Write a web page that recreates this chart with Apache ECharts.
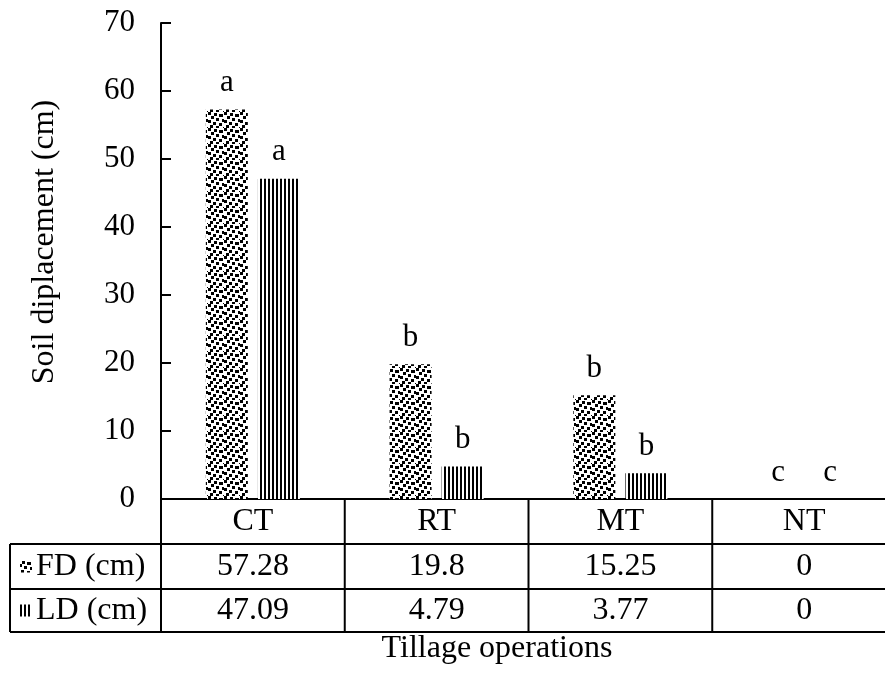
<!DOCTYPE html>
<html>
<head>
<meta charset="utf-8">
<script src="https://cdn.jsdelivr.net/npm/echarts@6/dist/echarts.min.js"></script>
<style>
html,body{margin:0;padding:0;background:#fff;}
#main{width:885px;height:695px;}
</style>
</head>
<body>
<div id="main"></div>
<script>
// ---- data ----
const categories = ['CT', 'RT', 'MT', 'NT'];
const fdValues = [57.28, 19.8, 15.25, 0];
const ldValues = [47.09, 4.79, 3.77, 0];
const fdLetters = ['a', 'b', 'b', 'c'];
const ldLetters = ['a', 'b', 'b', 'c'];
const seriesNames = ['FD (cm)', 'LD (cm)'];
const yMin = 0, yMax = 70, yStep = 10;
const yTitle = 'Soil diplacement (cm)';
const xTitle = 'Tillage operations';

// ---- styles ----
const FONT = "'Liberation Serif', 'Times New Roman', serif";
const FS = 31;
const FS_T = 32;
const GRID = { left: 161, top: 23, right: -11, height: 476 };
const TABLE_LEFT = 10;
const ROW_BOUNDS = [499, 544, 589, 632];

function confettiTile() {
  const c = document.createElement('canvas');
  c.width = 16; c.height = 16;
  const g = c.getContext('2d');
  g.fillStyle = '#fff'; g.fillRect(0, 0, 16, 16);
  g.fillStyle = '#000';
  const sq = [[0,0,3,3],[6,1,3,3],[11,2,4,3],[3,4,3,3],[14,7,2,3],[0,8,3,3],[8,6,3,3],[5,10,3,3],[11,11,3,3],[2,13,3,3],[8,14,3,2],[15,15,1,1]];
  sq.forEach(s => g.fillRect(s[0], s[1], s[2], s[3]));
  return c;
}
function vlineTile() {
  const c = document.createElement('canvas');
  c.width = 4; c.height = 4;
  const g = c.getContext('2d');
  g.fillStyle = '#fff'; g.fillRect(0, 0, 4, 4);
  g.fillStyle = '#000'; g.fillRect(0, 0, 2, 4);
  return c;
}
const fdFill = { image: confettiTile(), repeat: 'repeat' };
const ldFill = { image: vlineTile(), repeat: 'repeat' };

const chart = echarts.init(document.getElementById('main'), null, { renderer: 'canvas' });

const labelStyle = { show: true, position: 'top', distance: 11, color: '#000', fontFamily: FONT, fontSize: FS };

chart.setOption({
  animation: false,
  backgroundColor: '#fff',
  textStyle: { fontFamily: FONT, color: '#000' },
  grid: Object.assign({ outerBoundsMode: 'none', containLabel: false }, GRID),
  xAxis: {
    type: 'category',
    data: categories,
    axisLine: { show: true, lineStyle: { color: '#000', width: 2 } },
    axisTick: { show: false },
    axisLabel: { show: false },
    splitLine: { show: false }
  },
  yAxis: {
    type: 'value',
    min: yMin, max: yMax, interval: yStep,
    axisLine: { show: true, lineStyle: { color: '#000', width: 2 } },
    axisTick: { show: true, inside: true, length: 10, lineStyle: { color: '#000', width: 2 } },
    axisLabel: { color: '#000', fontFamily: FONT, fontSize: FS, margin: 26 },
    splitLine: { show: false }
  },
  series: [
    {
      name: seriesNames[0], type: 'bar', data: fdValues,
      barWidth: 42, barGap: '24%',
      itemStyle: { color: fdFill },
      label: Object.assign({}, labelStyle, { formatter: p => fdLetters[p.dataIndex] })
    },
    {
      name: seriesNames[1], type: 'bar', data: ldValues,
      barWidth: 42, barGap: '24%',
      itemStyle: { color: ldFill },
      label: Object.assign({}, labelStyle, { formatter: p => ldLetters[p.dataIndex] })
    }
  ]
});

// ---- data table below the axis ----
const centers = categories.map(c => chart.convertToPixel({ xAxisIndex: 0 }, c));
const band = centers.length > 1 ? centers[1] - centers[0] : 735;
const bounds = centers.map(c => c - band / 2);
const lineStyle = { stroke: '#000', lineWidth: 2 };
const elems = [];
const right = 885 + 20;
[1, 2, 3].forEach(r => {
  elems.push({ type: 'line', shape: { x1: TABLE_LEFT, y1: ROW_BOUNDS[r], x2: right, y2: ROW_BOUNDS[r] }, style: lineStyle });
});
elems.push({ type: 'line', shape: { x1: TABLE_LEFT, y1: ROW_BOUNDS[1], x2: TABLE_LEFT, y2: ROW_BOUNDS[3] }, style: lineStyle });
bounds.forEach((b, i) => {
  elems.push({ type: 'line', shape: { x1: b, y1: i === 0 ? GRID.top + GRID.height : ROW_BOUNDS[0], x2: b, y2: ROW_BOUNDS[3] }, style: lineStyle });
});
const rowMid = r => (ROW_BOUNDS[r] + ROW_BOUNDS[r + 1]) / 2;
const txt = (x, y, s, align) => ({
  type: 'text', x: x, y: y,
  style: { text: s, fill: '#000', font: FS_T + 'px ' + FONT, textAlign: align || 'center', textVerticalAlign: 'middle' }
});
categories.forEach((c, i) => {
  elems.push(txt(centers[i], rowMid(0), c));
  elems.push(txt(centers[i], rowMid(1), String(fdValues[i])));
  elems.push(txt(centers[i], rowMid(2), String(ldValues[i])));
});
elems.push({ type: 'rect', shape: { x: 20, y: rowMid(1) - 6, width: 12, height: 12 }, style: { fill: fdFill } });
elems.push({ type: 'rect', shape: { x: 20, y: rowMid(2) - 6, width: 12, height: 12 }, style: { fill: ldFill } });
elems.push(txt(36, rowMid(1), seriesNames[0], 'left'));
elems.push(txt(36, rowMid(2), seriesNames[1], 'left'));
elems.push(txt(497, 649, xTitle));
const yT = txt(0, 0, yTitle);
yT.x = 45; yT.y = 242; yT.rotation = Math.PI / 2;
elems.push(yT);
chart.setOption({ graphic: { elements: elems } });
</script>
</body>
</html>
